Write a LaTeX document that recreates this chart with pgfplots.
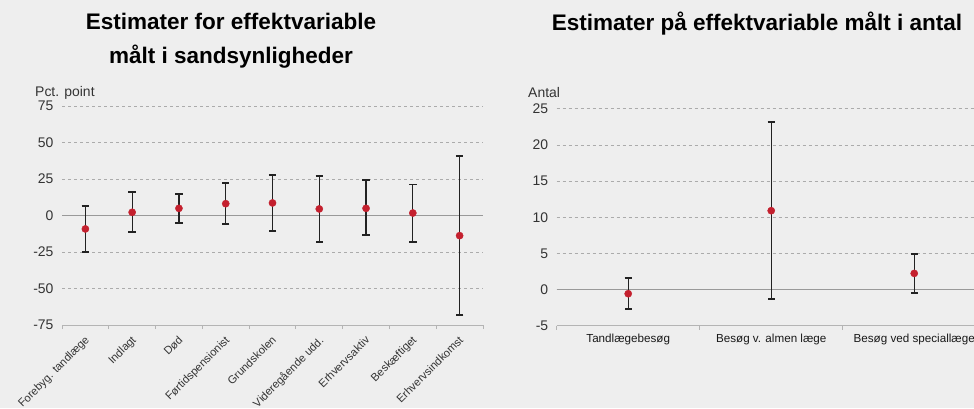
\documentclass[border=0pt]{standalone}
\usepackage{pgfplots}
\pgfplotsset{compat=1.18}
\usepackage{fontspec}
\setmainfont{Liberation Sans}

\definecolor{bg}{HTML}{EEEEEE}
\definecolor{dotred}{HTML}{C4202E}
\definecolor{gridgray}{HTML}{ABABAB}
\definecolor{axisgray}{HTML}{B4B4B4}
\definecolor{txt}{HTML}{333333}
\definecolor{barblack}{HTML}{222222}

\pgfplotsset{
  ciplot/.style={
    scale only axis,
    clip=false,
    separate axis lines,
    axis x line*=bottom,
    axis y line*=left,
    y axis line style={draw=none},
    x axis line style={draw=axisgray, line width=0.9bp},
    ymajorgrids,
    grid style={gridgray, dash pattern=on 3.3bp off 2.7bp, line width=0.7bp},
    major tick length=0pt,
    minor tick length=4bp,
    tick align=outside,
    minor x tick style={draw=axisgray, line width=0.9bp},
    /pgf/number format/assume math mode=true,
    y tick label style={font=\fontsize{14}{16}\selectfont, text=txt, xshift=-5bp},
    extra y ticks={0},
    extra y tick labels={},
    extra y tick style={grid style={solid, draw=gray!80, line width=0.9bp}},
  },
  ci/.style={
    only marks,
    mark=*,
    mark size=3.6bp,
    mark options={fill=dotred, draw=dotred},
    error bars/.cd,
      y dir=both, y explicit,
      error bar style={line width=1.3bp, draw=barblack},
      error mark options={rotate=90, line width=1.8bp, draw=barblack, mark size=3.7bp},
  },
}

\begin{document}
\begin{tikzpicture}[x=1bp, y=1bp]
\useasboundingbox (0,0) rectangle (974,408);
\clip (0,0) rectangle (974,408);
\fill[bg] (0,0) rectangle (974,408);

% titles
\node[anchor=base, font=\bfseries\fontsize{22.6}{26}\selectfont] at (231,378.5) {Estimater for effektvariable};
\node[anchor=base, font=\bfseries\fontsize{22.6}{26}\selectfont] at (231,344.5) {målt i sandsynligheder};
\node[anchor=base, font=\bfseries\fontsize{22.6}{26}\selectfont] at (757,378) {Estimater på effektvariable målt i antal};

% unit labels
\node[anchor=base west, font=\fontsize{14}{16}\selectfont, text=txt, inner sep=0pt] at (35,312) {Pct. point};
\node[anchor=base west, font=\fontsize{14}{16}\selectfont, text=txt, inner sep=0pt] at (528,311) {Antal};

% probabilities, percentage points
\begin{axis}[ciplot,
  at={(62bp,83bp)}, anchor=south west,
  width=421bp, height=219bp,
  xmin=0.5, xmax=9.5, ymin=-75, ymax=75,
  ytick={-75,-50,-25,0,25,50,75},
  xtick={1,...,9},
  minor xtick={0.5,1.5,...,9.5},
  xticklabels={Forebyg. tandlæge, Indlagt, Død, Førtidspensionist, Grundskolen, Videregående udd., Erhvervsaktiv, Beskæftiget, Erhvervsindkomst},
  x tick label style={font=\fontsize{11.2}{13}\selectfont, text=txt, rotate=45, anchor=north east, inner sep=1bp, yshift=-5bp, xshift=-7bp},
]
\addplot[ci] coordinates {
  (1,-9.2)  += (0,15.5) -= (0,15.8)
  (2,2.2)   += (0,13.7) -= (0,13.3)
  (3,4.9)   += (0,9.6)  -= (0,10.0)
  (4,8.1)   += (0,14.2) -= (0,13.9)
  (5,8.6)   += (0,19.1) -= (0,19.0)
  (6,4.5)   += (0,22.8) -= (0,22.7)
  (7,4.9)   += (0,19.2) -= (0,18.5)
  (8,1.7)   += (0,19.6) -= (0,19.6)
  (9,-13.8) += (0,54.6) -= (0,54.3)
};
\end{axis}

% counts
\begin{axis}[ciplot,
  at={(556.7bp,82.3bp)}, anchor=south west,
  width=417.3bp, height=217bp,
  xmin=0.5, xmax=3.418, ymin=-5, ymax=25,
  ytick={-5,0,5,10,15,20,25},
  xtick={1,2,3},
  minor xtick={0.5,1.5,2.5},
  xticklabels={Tandlægebesøg, Besøg v. almen læge, Besøg ved speciallæge},
  x tick label style={font=\fontsize{11.7}{13}\selectfont, text=black!90, anchor=north, yshift=-5bp},
]
\addplot[ci] coordinates {
  (1,-0.58) += (0,2.22)  -= (0,2.16)
  (2,10.9)  += (0,12.3)  -= (0,12.26)
  (3,2.23)  += (0,2.67)  -= (0,2.67)
};
\end{axis}
\end{tikzpicture}
\end{document}
